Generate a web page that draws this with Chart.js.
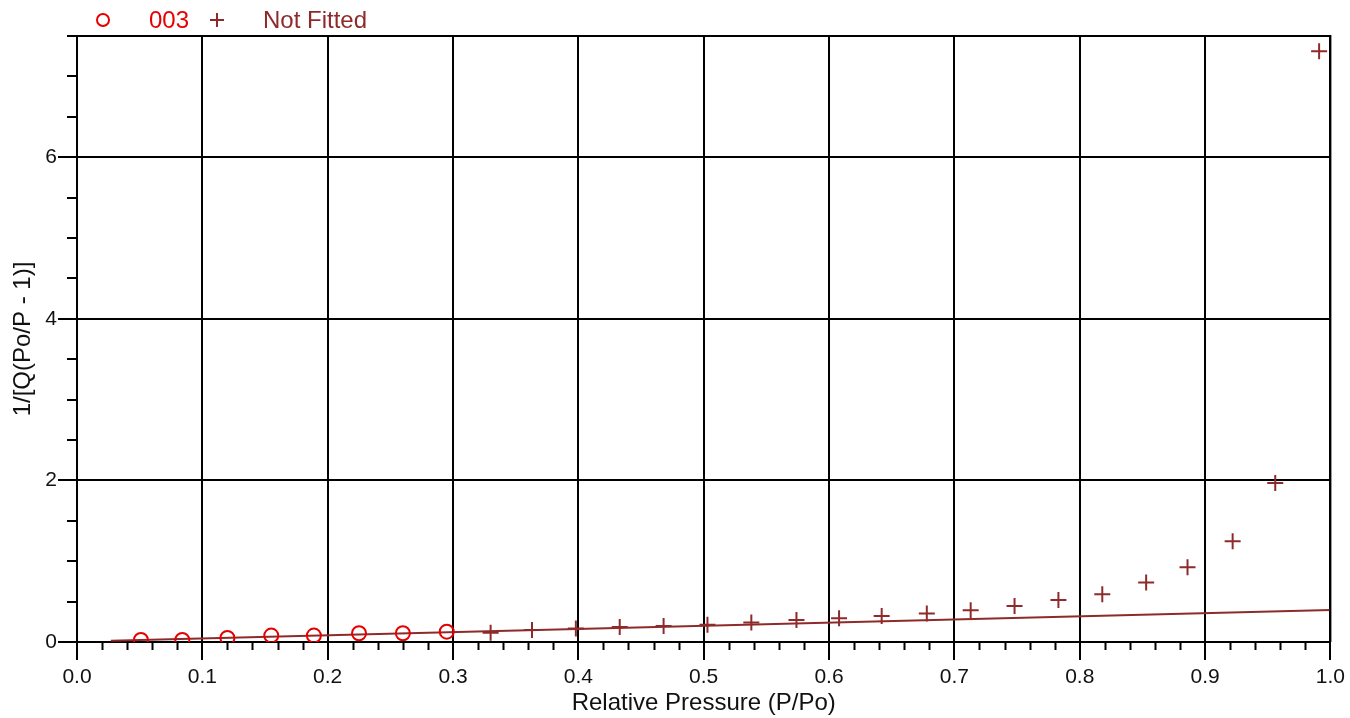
<!DOCTYPE html>
<html>
<head>
<meta charset="utf-8">
<script src="https://cdn.jsdelivr.net/npm/chart.js@4/dist/chart.umd.min.js"></script>
<style>
  html, body { margin: 0; padding: 0; background: #fff; }
  #wrap { width: 1350px; height: 718px; position: relative; }
</style>
</head>
<body>
<div id="wrap"><canvas id="chart"></canvas></div>
<script>
// Series "003" (fitted points)
const pressure003 = [0.051, 0.084, 0.120, 0.155, 0.189, 0.225, 0.260, 0.295];
const value003 = [0.025, 0.025, 0.050, 0.079, 0.079, 0.108, 0.108, 0.128];

// Not fitted points
const pressureNotFitted = [0.330, 0.363, 0.398, 0.433, 0.468, 0.503, 0.538, 0.574, 0.608, 0.642,
  0.678, 0.713, 0.748, 0.783, 0.818, 0.853, 0.886, 0.922, 0.956, 0.991];
const valueNotFitted = [0.116, 0.149, 0.166, 0.186, 0.198, 0.215, 0.240, 0.273, 0.294, 0.322,
  0.352, 0.393, 0.446, 0.520, 0.591, 0.736, 0.926, 1.248, 1.967, 7.31];

// Fit line end points
const fitLineX = [0.027, 1.0];
const fitLineY = [0.017, 0.397];

// Tick labels
const xTickLabels = ['0.0', '0.1', '0.2', '0.3', '0.4', '0.5', '0.6', '0.7', '0.8', '0.9', '1.0'];
const yTickLabels = ['0', '2', '4', '6'];

const RED = '#e60000';
const BROWN = '#8e2a2a';
const FONT = "'Liberation Sans', Arial, sans-serif";

function toPoints(xs, ys) {
  return xs.map((x, i) => ({ x: x, y: ys[i] }));
}

// Minor ticks, border and the legend drawn on the canvas
const extrasPlugin = {
  id: 'extras',
  afterDraw(chart) {
    const ctx = chart.ctx;
    const xs = chart.scales.x;
    const ys = chart.scales.y;
    const area = chart.chartArea;
    ctx.save();
    ctx.strokeStyle = '#000';
    ctx.lineWidth = 2;
    ctx.beginPath();
    // minor x ticks every 0.02
    for (let i = 0; i <= 50; i++) {
      if (i % 5 === 0) continue;
      const px = Math.round(xs.getPixelForValue(i / 50)) + 0.5;
      ctx.moveTo(px, area.bottom);
      ctx.lineTo(px, area.bottom + 8);
    }
    // minor y ticks every 0.5
    for (let i = 1; i <= 15; i++) {
      if (i % 4 === 0) continue;
      const py = Math.round(ys.getPixelForValue(i / 2));
      ctx.moveTo(area.left, py);
      ctx.lineTo(area.left - 10, py);
    }
    // top and right frame
    ctx.moveTo(area.left, area.top);
    ctx.lineTo(area.right, area.top);
    ctx.lineTo(area.right, area.bottom);
    ctx.stroke();

    // legend
    ctx.lineWidth = 2;
    ctx.strokeStyle = RED;
    ctx.beginPath();
    ctx.arc(103, 20, 6, 0, Math.PI * 2);
    ctx.stroke();
    ctx.strokeStyle = BROWN;
    ctx.beginPath();
    ctx.moveTo(210, 20); ctx.lineTo(224, 20);
    ctx.moveTo(217, 13); ctx.lineTo(217, 27);
    ctx.stroke();
    ctx.font = '24px ' + FONT;
    ctx.textBaseline = 'middle';
    ctx.fillStyle = RED;
    ctx.fillText('003', 149, 21);
    ctx.fillStyle = BROWN;
    ctx.fillText('Not Fitted', 263, 21);
    ctx.restore();
  }
};

new Chart(document.getElementById('chart'), {
  type: 'scatter',
  data: {
    datasets: [
      {
        label: 'Fit',
        data: toPoints(fitLineX, fitLineY),
        showLine: true,
        borderColor: BROWN,
        borderWidth: 2,
        pointRadius: 0,
        order: 3
      },
      {
        label: 'Not Fitted',
        data: toPoints(pressureNotFitted, valueNotFitted),
        pointStyle: 'cross',
        pointRadius: 8,
        borderColor: BROWN,
        borderWidth: 2,
        order: 2
      },
      {
        label: '003',
        data: toPoints(pressure003, value003),
        pointStyle: 'circle',
        pointRadius: 7,
        borderColor: RED,
        backgroundColor: 'rgba(0,0,0,0)',
        borderWidth: 2,
        order: 1
      }
    ]
  },
  options: {
    responsive: true,
    maintainAspectRatio: false,
    animation: false,
    layout: { padding: { top: 36, right: 19, left: 0, bottom: 0 } },
    plugins: {
      legend: { display: false },
      tooltip: { enabled: false }
    },
    scales: {
      x: {
        type: 'linear',
        min: 0,
        max: 1,
        afterFit(scale) { scale.height = 76; },
        border: { color: '#000', width: 2 },
        grid: { color: '#000', lineWidth: 2, tickLength: 18, tickColor: '#000' },
        ticks: {
          stepSize: 0.1,
          color: '#111',
          padding: 5,
          maxRotation: 0,
          font: { family: FONT, size: 21 },
          callback: (v, i) => xTickLabels[Math.round(v * 10)]
        },
        title: {
          display: true,
          text: 'Relative Pressure (P/Po)',
          color: '#111',
          font: { family: FONT, size: 24 },
          padding: { top: 0, bottom: 0 }
        }
      },
      y: {
        type: 'linear',
        min: 0,
        max: 7.5,
        afterFit(scale) { scale.width = 77; },
        border: { color: '#000', width: 2 },
        grid: { color: '#000', lineWidth: 2, tickLength: 19, tickColor: '#000' },
        ticks: {
          stepSize: 2,
          color: '#111',
          padding: 1,
          font: { family: FONT, size: 21 },
          callback: (v) => yTickLabels[Math.round(v / 2)]
        },
        title: {
          display: true,
          text: '1/[Q(Po/P - 1)]',
          color: '#111',
          font: { family: FONT, size: 24 },
          padding: { top: 9, bottom: 0 }
        }
      }
    }
  },
  plugins: [extrasPlugin]
});
</script>
</body>
</html>
